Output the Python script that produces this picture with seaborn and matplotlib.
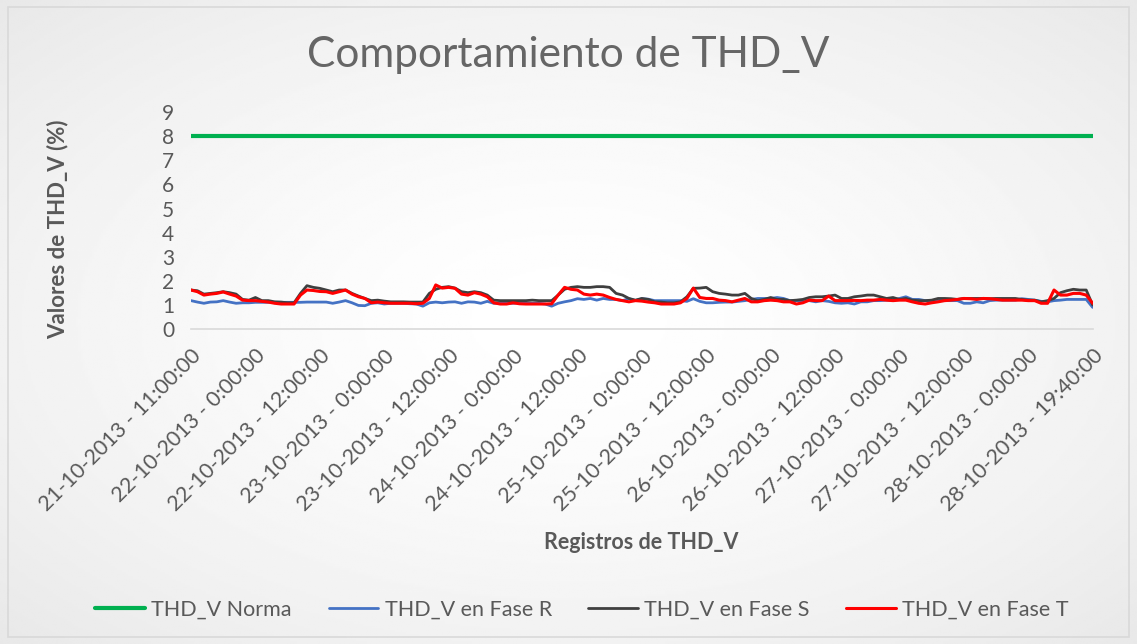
import numpy as np
import pandas as pd
import matplotlib
matplotlib.use("Agg")
import matplotlib.pyplot as plt
from matplotlib.patches import Rectangle
import seaborn as sns

# THD_V values (%), one per record slot
norma = [8.0] * 141

fase_r = [1.18, 1.12, 1.07, 1.12, 1.13, 1.18, 1.12, 1.07, 1.09, 1.09,
          1.11, 1.11, 1.11, 1.11, 1.11, 1.11, 1.11, 1.11, 1.12, 1.12,
          1.12, 1.12, 1.07, 1.12, 1.18, 1.09, 0.98, 0.97, 1.07, 1.09,
          1.04, 1.07, 1.07, 1.07, 1.05, 1.04, 0.95, 1.09, 1.12, 1.09,
          1.12, 1.13, 1.07, 1.13, 1.12, 1.07, 1.15, 1.07, 1.07, 1.07,
          1.07, 1.09, 1.07, 1.07, 1.07, 1.04, 0.95, 1.07, 1.13, 1.18,
          1.26, 1.23, 1.27, 1.20, 1.27, 1.23, 1.23, 1.18, 1.26, 1.18,
          1.26, 1.24, 1.18, 1.18, 1.18, 1.18, 1.18, 1.15, 1.26, 1.15,
          1.09, 1.09, 1.11, 1.12, 1.12, 1.15, 1.18, 1.23, 1.27, 1.27,
          1.27, 1.31, 1.27, 1.18, 1.18, 1.18, 1.18, 1.13, 1.18, 1.15,
          1.09, 1.07, 1.09, 1.04, 1.13, 1.13, 1.18, 1.18, 1.20, 1.20,
          1.27, 1.34, 1.23, 1.23, 1.18, 1.18, 1.18, 1.18, 1.18, 1.18,
          1.07, 1.07, 1.13, 1.09, 1.18, 1.20, 1.20, 1.20, 1.20, 1.26,
          1.23, 1.20, 1.15, 1.13, 1.18, 1.20, 1.23, 1.23, 1.23, 1.23,
          0.90]

fase_s = [1.62, 1.59, 1.45, 1.48, 1.51, 1.55, 1.51, 1.45, 1.23, 1.20,
          1.31, 1.18, 1.18, 1.13, 1.12, 1.09, 1.09, 1.48, 1.80, 1.73,
          1.69, 1.62, 1.55, 1.62, 1.62, 1.48, 1.37, 1.27, 1.18, 1.20,
          1.16, 1.13, 1.13, 1.13, 1.12, 1.12, 1.12, 1.48, 1.65, 1.73,
          1.76, 1.70, 1.55, 1.51, 1.55, 1.51, 1.41, 1.20, 1.18, 1.18,
          1.18, 1.18, 1.18, 1.20, 1.18, 1.18, 1.18, 1.41, 1.65, 1.73,
          1.76, 1.73, 1.73, 1.76, 1.76, 1.73, 1.48, 1.41, 1.27, 1.20,
          1.27, 1.23, 1.13, 1.12, 1.09, 1.09, 1.13, 1.34, 1.69, 1.70,
          1.73, 1.55, 1.48, 1.45, 1.41, 1.41, 1.48, 1.27, 1.18, 1.23,
          1.31, 1.23, 1.23, 1.18, 1.20, 1.23, 1.31, 1.34, 1.34, 1.37,
          1.41, 1.27, 1.27, 1.34, 1.37, 1.41, 1.41, 1.34, 1.27, 1.31,
          1.23, 1.27, 1.20, 1.18, 1.18, 1.20, 1.27, 1.27, 1.26, 1.23,
          1.27, 1.27, 1.27, 1.27, 1.26, 1.27, 1.27, 1.27, 1.27, 1.23,
          1.20, 1.20, 1.13, 1.18, 1.27, 1.51, 1.59, 1.65, 1.62, 1.62,
          1.00]

fase_t = [1.62, 1.55, 1.41, 1.45, 1.48, 1.54, 1.45, 1.37, 1.20, 1.18,
          1.18, 1.15, 1.12, 1.07, 1.04, 1.04, 1.04, 1.41, 1.62, 1.60,
          1.56, 1.55, 1.48, 1.55, 1.62, 1.45, 1.34, 1.27, 1.09, 1.12,
          1.09, 1.07, 1.07, 1.07, 1.07, 1.05, 1.07, 1.27, 1.83, 1.70,
          1.73, 1.69, 1.45, 1.41, 1.51, 1.45, 1.34, 1.09, 1.04, 1.04,
          1.09, 1.05, 1.04, 1.04, 1.04, 1.04, 1.05, 1.41, 1.73, 1.65,
          1.62, 1.45, 1.41, 1.45, 1.41, 1.31, 1.23, 1.18, 1.13, 1.18,
          1.16, 1.12, 1.09, 1.04, 1.04, 1.04, 1.09, 1.27, 1.70, 1.31,
          1.27, 1.27, 1.20, 1.18, 1.13, 1.20, 1.27, 1.13, 1.13, 1.18,
          1.20, 1.18, 1.13, 1.13, 1.04, 1.09, 1.20, 1.18, 1.18, 1.37,
          1.18, 1.18, 1.18, 1.19, 1.18, 1.20, 1.20, 1.23, 1.20, 1.18,
          1.20, 1.20, 1.13, 1.07, 1.04, 1.09, 1.13, 1.18, 1.20, 1.23,
          1.27, 1.26, 1.23, 1.27, 1.26, 1.23, 1.20, 1.20, 1.20, 1.20,
          1.18, 1.18, 1.07, 1.07, 1.62, 1.41, 1.41, 1.48, 1.48, 1.41,
          1.07]

tick_labels = ["21-10-2013 - 11:00:00", "22-10-2013 - 0:00:00", "22-10-2013 - 12:00:00",
               "23-10-2013 - 0:00:00", "23-10-2013 - 12:00:00", "24-10-2013 - 0:00:00",
               "24-10-2013 - 12:00:00", "25-10-2013 - 0:00:00", "25-10-2013 - 12:00:00",
               "26-10-2013 - 0:00:00", "26-10-2013 - 12:00:00", "27-10-2013 - 0:00:00",
               "27-10-2013 - 12:00:00", "28-10-2013 - 0:00:00", "28-10-2013 - 19:40:00"]

series_names = ["THD_V Norma", "THD_V en Fase R", "THD_V en Fase S", "THD_V en Fase T"]
colors = ["#00b050", "#4472c4", "#3f3f3f", "#ff0000"]
widths = [3.0, 2.0, 2.0, 2.2]

sns.set_theme(style="white")
plt.rcParams["font.family"] = ["Lato", "DejaVu Sans"]

reg = np.arange(len(fase_r))
df = pd.DataFrame({"registro": reg, series_names[0]: norma, series_names[1]: fase_r,
                   series_names[2]: fase_s, series_names[3]: fase_t})
long_df = df.melt(id_vars="registro", var_name="serie", value_name="thd")

fig = plt.figure(figsize=(11.37, 6.44), dpi=100)

# soft radial background like the Excel chart area
bg = fig.add_axes([0, 0, 1, 1], zorder=-5)
yy, xx = np.mgrid[-1:1:300j, -1:1:500j]
r = np.sqrt(xx ** 2 + yy ** 2) / np.sqrt(2)
bg.imshow(1 - 0.09 * r ** 1.5, cmap="gray", vmin=0, vmax=1, aspect="auto", extent=[0, 1, 0, 1])
bg.axis("off")
fig.patches.append(Rectangle((0.007, 0.011), 0.986, 0.978, transform=fig.transFigure,
                             fill=False, edgecolor="#d9d9d9", linewidth=1.2))

ax = fig.add_axes([0.168, 0.489, 0.793, 0.337])
ax.set_facecolor("none")
sns.lineplot(data=long_df, x="registro", y="thd", hue="serie", palette=colors,
             hue_order=series_names, ax=ax, legend=False)
for line, lw in zip(ax.get_lines(), widths):
    line.set_linewidth(lw)

ax.set_xlim(0, len(reg) - 1)
ax.set_ylim(0, 9)
ax.set_yticks(range(10))
ax.set_xticks(np.linspace(0, len(reg) - 1, len(tick_labels)))
ax.set_xticklabels(tick_labels, rotation=45, ha="right", rotation_mode="anchor")
ax.tick_params(axis="x", length=0, pad=12, labelsize=15.5, labelcolor="#595959")
ax.tick_params(axis="y", length=0, pad=12, labelsize=15, labelcolor="#595959")
for s in ["top", "right", "left"]:
    ax.spines[s].set_visible(False)
ax.spines["bottom"].set_color("#d9d9d9")
ax.spines["bottom"].set_linewidth(1.2)

ax.set_xlabel("")
ax.set_ylabel("")
fig.text(0.051, 0.644, "Valores de THD_V (%)", ha="center", va="center", rotation=90,
         fontsize=16, fontweight="bold", color="#595959")
fig.text(0.564, 0.158, "Registros de THD_V", ha="center", va="center",
         fontsize=15.5, fontweight="bold", color="#595959")
fig.text(0.5, 0.915, "Comportamiento de THD_V", ha="center", va="center",
         fontsize=30.5, color="#666666")

handles = [plt.Line2D([], [], color=c, linewidth=lw) for c, lw in zip(colors, widths)]
fig.legend(handles, series_names, loc="center", bbox_to_anchor=(0.512, 0.054), ncol=4,
           frameon=False, fontsize=15.5, handlelength=2.3, handletextpad=0.3,
           columnspacing=1.7, labelcolor="#595959")

fig.savefig("out.png", dpi=100)
